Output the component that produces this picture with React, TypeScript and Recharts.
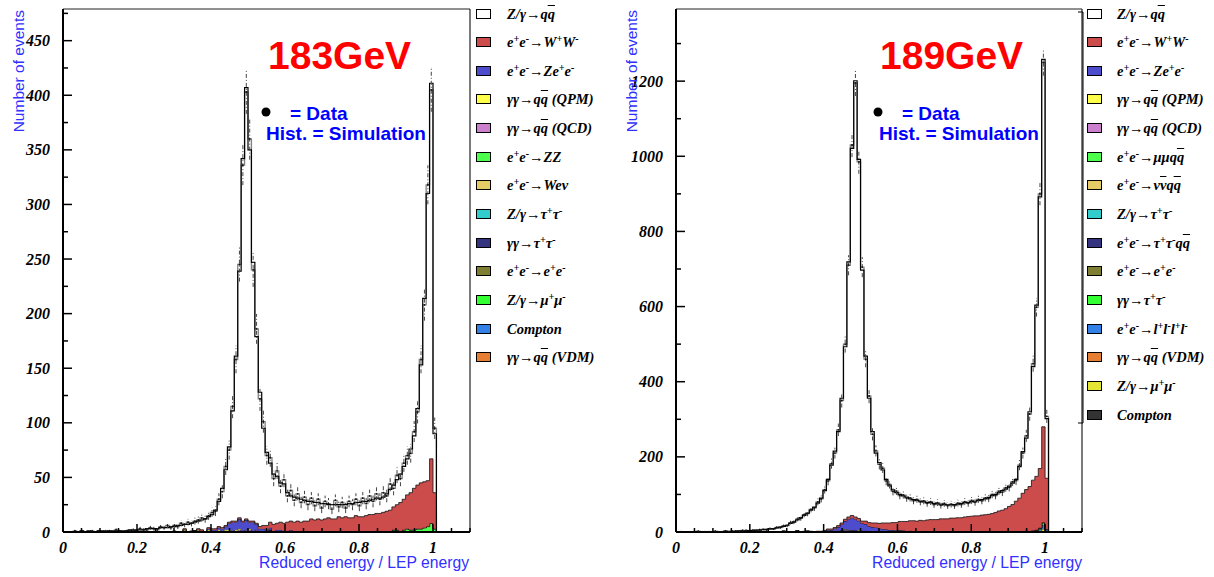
import React from 'react';
import { ComposedChart, Area, Line, Scatter, ErrorBar, XAxis, YAxis, ReferenceLine } from 'recharts';

// histogram binning: 108 bins per unit of reduced energy
const BIN = 1 / 108;

const X_TICKS = [0, 0.05, 0.1, 0.15, 0.2, 0.25, 0.3, 0.35, 0.4, 0.45, 0.5, 0.55, 0.6, 0.65, 0.7, 0.75, 0.8, 0.85, 0.9, 0.95, 1, 1.05, 1.1];
const Y_TICKS_183 = [0, 25, 50, 75, 100, 125, 150, 175, 200, 225, 250, 275, 300, 325, 350, 375, 400, 425, 450, 475];
const Y_TICKS_189 = [0, 100, 200, 300, 400, 500, 600, 700, 800, 900, 1000, 1100, 1200, 1300];

// ---- 183 GeV ----
const TOTAL_183 = [
  0, 0, 0, 0, 0, 1, 0, 1, 0, 0,
  1, 1, 0, 1, 1, 1, 1, 1, 1, 2,
  1, 2, 2, 2, 3, 3, 3, 3, 4, 4,
  4, 5, 5, 6, 6, 7, 7, 8, 9, 10,
  11, 12, 14, 16, 20, 28, 40, 57, 78, 111,
  161, 239, 342, 407, 350, 247, 179, 128, 95, 73,
  63, 53, 51, 45, 44, 36, 33, 32, 31, 30,
  29, 28, 28, 27, 27, 26, 26, 25, 25, 25,
  25, 25, 25, 26, 26, 27, 27, 28, 28, 29,
  30, 31, 31, 32, 35, 39, 43, 48, 53, 60,
  67, 76, 88, 113, 153, 214, 310, 411, 90,
];
const DATA_183 = [
  0, 0, 0, 1, 0, 1, 0, 0, 1, 0,
  1, 0, 1, 1, 0, 2, 1, 0, 1, 1,
  2, 1, 3, 2, 2, 4, 3, 2, 5, 4,
  6, 4, 6, 5, 8, 7, 9, 8, 10, 11,
  13, 12, 15, 18, 19, 30, 37, 60, 75, 115,
  158, 245, 336, 403, 360, 240, 186, 122, 101, 70,
  68, 49, 56, 42, 48, 33, 38, 29, 35, 27,
  32, 25, 31, 24, 30, 22, 28, 26, 21, 29,
  23, 27, 22, 28, 25, 30, 24, 31, 26, 33,
  28, 35, 30, 36, 33, 44, 40, 52, 49, 63,
  70, 72, 92, 110, 158, 208, 318, 405, 95,
];
const EE_183 = { from: 60, values: [1, 0, 0, 1, 0, 0, 1, 0, 1, 0, 0, 0, 1, 0, 1, 0, 0, 1, 0, 0, 1, 0, 1, 0, 0, 1, 0, 0, 0, 1, 0, 1, 0, 1, 0, 0, 1, 1, 0, 1, 1] };
const GGTT_183 = { from: 38, values: [1, 0, 1, 0, 1, 1, 1, 1, 1, 1, 1, 1, 1, 1, 1, 1, 1, 1, 1, 0, 1, 0, 1, 0, 1] };
const ZZ_183 = { from: 96, values: [1, 1, 1, 1, 2, 2, 2, 3, 3, 4, 5, 8, 3] };
const QCD_183 = { from: 50, values: [0, 1, 0, 1, 1, 0, 1] };
const QPM_183 = { from: 35, values: [2, 0, 0, 0, 2, 0, 0, 1, 0, 0, 1, 0, 1, 1, 0, 1, 1, 0, 0, 1] };
const ZEE_183 = { from: 42, values: [1, 1, 1, 2, 2, 3, 6, 8, 7, 9, 8, 9, 6, 8, 5, 3, 2, 2, 2, 1, 1, 1, 1, 1, 1] };
const WW_183 = {
  from: 30,
  values: [
    0, 0, 1, 0, 0, 1, 0, 1, 0, 1,
    1, 0, 1, 1, 1, 1, 1, 1, 1, 1,
    1, 1, 1, 1, 1, 1, 1, 2, 3, 4,
    5, 6, 6, 7, 7, 8, 8, 9, 9, 9,
    10, 10, 11, 11, 11, 11, 12, 12, 12, 12,
    13, 13, 13, 13, 13, 14, 14, 14, 15, 15,
    16, 16, 17, 17, 19, 20, 21, 23, 26, 28,
    31, 34, 38, 40, 42, 42, 42, 59, 33,
  ],
};

// ---- 189 GeV ----
const TOTAL_189 = [
  0, 0, 0, 0, 1, 0, 1, 1, 0, 1,
  1, 1, 1, 1, 2, 2, 2, 2, 3, 3,
  3, 4, 4, 5, 5, 6, 7, 8, 9, 11,
  13, 15, 18, 23, 27, 32, 38, 44, 50, 58,
  66, 77, 90, 110, 140, 178, 215, 267, 356, 493,
  719, 1021, 1201, 992, 697, 468, 356, 267, 210, 185,
  165, 140, 123, 112, 105, 100, 96, 93, 88, 86,
  84, 82, 80, 79, 78, 76, 75, 74, 73, 72,
  72, 73, 74, 76, 78, 79, 81, 82, 84, 86,
  88, 92, 97, 100, 105, 110, 114, 122, 130, 140,
  174, 214, 250, 320, 440, 604, 892, 1258, 302,
];
const DATA_189 = [
  0, 1, 0, 0, 0, 1, 2, 0, 1, 1,
  0, 2, 1, 1, 3, 1, 2, 3, 2, 4,
  4, 3, 5, 4, 6, 7, 6, 9, 8, 12,
  12, 16, 17, 25, 26, 34, 36, 46, 49, 60,
  64, 80, 88, 113, 136, 182, 210, 272, 350, 500,
  710, 1030, 1195, 985, 705, 460, 362, 260, 216, 180,
  170, 136, 127, 108, 109, 97, 99, 90, 91, 83,
  87, 80, 83, 76, 81, 73, 78, 71, 76, 70,
  74, 70, 77, 73, 81, 76, 84, 79, 87, 83,
  91, 89, 100, 97, 109, 106, 118, 119, 134, 137,
  178, 210, 256, 314, 448, 598, 900, 1250, 308,
];
const ZMUMU_189 = { from: 105, values: [1, 3, 8, 2] };
const LLLL_189 = { from: 104, values: [1, 2, 4, 10, 3] };
const GGTT_189 = { from: 105, values: [1, 2, 7, 2] };
const EE_189 = { from: 58, values: [1, 0, 1, 1, 0, 1, 0, 1, 1, 0, 1, 1, 0, 1, 0, 1, 1, 1, 0, 1, 1, 0, 1, 1, 1, 0, 1, 1, 1, 1, 0, 1, 1, 1, 1, 1, 2, 1, 1, 2, 1, 2, 2, 2, 3, 2, 3, 2, 2] };
const TTQQ_189 = { from: 44, values: [1, 1, 2, 2, 3, 3, 3, 2, 2, 2, 2, 2, 1, 1, 1, 1, 1, 1, 1, 1, 1, 2, 1, 1, 1, 1] };
const QCD_189 = { from: 47, values: [1, 1, 2, 2, 3, 2, 2, 1, 1] };
const QPM_189 = { from: 28, values: [1, 0, 0, 2, 0, 0, 0, 3, 0, 0, 2, 0, 0, 1, 0, 0, 3, 0, 1, 0, 0, 2, 1, 0, 0, 2] };
const ZEE_189 = { from: 42, values: [1, 2, 2, 4, 6, 10, 16, 22, 28, 33, 30, 24, 20, 18, 14, 12, 10, 8, 6, 5, 4, 3, 3, 2, 2, 1, 1] };
const WW_189 = {
  from: 30,
  values: [
    0, 1, 0, 1, 1, 1, 1, 2, 1, 2,
    1, 1, 1, 2, 2, 3, 3, 4, 4, 5,
    6, 6, 6, 6, 6, 8, 10, 11, 12, 14,
    16, 17, 19, 20, 21, 23, 24, 26, 27, 28,
    29, 30, 30, 31, 32, 32, 33, 34, 34, 35,
    36, 36, 37, 38, 39, 40, 41, 42, 43, 44,
    45, 46, 48, 51, 54, 57, 61, 66, 72, 80,
    88, 101, 110, 119, 134, 142, 158, 255, 136,
  ],
};

const LEGEND_183 = [
  ['Z/γ→q~q', '#ffffff'],
  ['e^+e^-→W^+W^-', '#cc4c4c'],
  ['e^+e^-→Ze^+e^-', '#4c4ccc'],
  ['γγ→q~q (QPM)', '#ffff4c'],
  ['γγ→q~q (QCD)', '#cc7fcc'],
  ['e^+e^-→ZZ', '#4cff4c'],
  ['e^+e^-→Weν', '#e5cc66'],
  ['Z/γ→τ^+τ^-', '#33cccc'],
  ['γγ→τ^+τ^-', '#33337f'],
  ['e^+e^-→e^+e^-', '#7f7f33'],
  ['Z/γ→μ^+μ^-', '#33ff33'],
  ['Compton', '#3380e6'],
  ['γγ→q~q (VDM)', '#e67f33'],
];
const LEGEND_189 = [
  ['Z/γ→q~q', '#ffffff'],
  ['e^+e^-→W^+W^-', '#cc4c4c'],
  ['e^+e^-→Ze^+e^-', '#4c4ccc'],
  ['γγ→q~q (QPM)', '#ffff4c'],
  ['γγ→q~q (QCD)', '#cc7fcc'],
  ['e^+e^-→μμq~q', '#4cff4c'],
  ['e^+e^-→ν~νq~q', '#e5cc66'],
  ['Z/γ→τ^+τ^-', '#33cccc'],
  ['e^+e^-→τ^+τ^-q~q', '#33337f'],
  ['e^+e^-→e^+e^-', '#7f7f33'],
  ['γγ→τ^+τ^-', '#33ff33'],
  ['e^+e^-→l^+l^-l^+l^-', '#3380e6'],
  ['γγ→q~q (VDM)', '#e67f33'],
  ['Z/γ→μ^+μ^-', '#e5e533'],
  ['Compton', '#333333'],
];

// stacking order, bottom first
const STACK_183 = [
  { key: 'ee', part: EE_183, color: '#7f7f33' },
  { key: 'ggtt', part: GGTT_183, color: '#33337f' },
  { key: 'zz', part: ZZ_183, color: '#4cff4c' },
  { key: 'qcd', part: QCD_183, color: '#cc7fcc' },
  { key: 'qpm', part: QPM_183, color: '#ffff4c' },
  { key: 'zee', part: ZEE_183, color: '#4c4ccc' },
  { key: 'ww', part: WW_183, color: '#cc4c4c' },
];
const STACK_189 = [
  { key: 'zmumu', part: ZMUMU_189, color: '#e5e533' },
  { key: 'llll', part: LLLL_189, color: '#3380e6' },
  { key: 'ggtt', part: GGTT_189, color: '#33ff33' },
  { key: 'ee', part: EE_189, color: '#7f7f33' },
  { key: 'ttqq', part: TTQQ_189, color: '#33337f' },
  { key: 'qcd', part: QCD_189, color: '#cc7fcc' },
  { key: 'qpm', part: QPM_189, color: '#ffff4c' },
  { key: 'zee', part: ZEE_189, color: '#4c4ccc' },
  { key: 'ww', part: WW_189, color: '#cc4c4c' },
];

const PLOT_LEFT = 63;
const PLOT_BOTTOM = 532;
const SERIF = '"Liberation Serif", "Times New Roman", serif';
const SANS = '"Liberation Sans", Arial, sans-serif';

type Part = { from: number; values: number[] };
const at = (p: Part, i: number) => (i >= p.from && i < p.from + p.values.length ? p.values[i - p.from] : 0);

function buildRows(total: number[], data: number[], stack: { key: string; part: Part }[]) {
  const rows: any[] = [];
  for (let i = 0; i <= total.length; i++) {
    const row: any = { x: i * BIN, total: total[i] ?? 0, data: data[i] ?? 0 };
    stack.forEach((s) => (row[s.key] = at(s.part, i)));
    rows.push(row);
  }
  return rows;
}

function buildPoints(data: number[]) {
  return data
    .map((v, i) => ({ x: (i + 0.5) * BIN, y: v, err: Math.sqrt(v) }))
    .filter((p) => p.y > 0);
}

const YTick = (major: number) => (props: any) => {
  const { y, payload } = props;
  const v = payload.value;
  const isMajor = v % major === 0;
  return (
    <g>
      <line x1={PLOT_LEFT} x2={PLOT_LEFT + (isMajor ? 9 : 5)} y1={y} y2={y} stroke="#000" strokeWidth={1.5} />
      {isMajor && (
        <text x={PLOT_LEFT - 13} y={y + 5.5} textAnchor="end" fontFamily={SERIF} fontStyle="italic" fontWeight="bold" fontSize={16} fill="#000">
          {v}
        </text>
      )}
    </g>
  );
};

const XTick = (props: any) => {
  const { x, payload } = props;
  const v = payload.value;
  const fifth = Math.abs(v * 5 - Math.round(v * 5)) < 1e-6;
  const labelled = fifth && v <= 1.0001;
  return (
    <g>
      <line x1={x} x2={x} y1={PLOT_BOTTOM} y2={PLOT_BOTTOM - (labelled && v > 0 ? 8 : 4)} stroke="#000" strokeWidth={1.5} />
      {labelled && (
        <text x={x} y={553} textAnchor="middle" fontFamily={SERIF} fontStyle="italic" fontWeight="bold" fontSize={16} fill="#000">
          {String(Math.round(v * 10) / 10)}
        </text>
      )}
    </g>
  );
};

function Label({ text }: { text: string }) {
  const parts = text.split(/(\^[+-]|~.)/u).filter((s) => s !== '');
  return (
    <>
      {parts.map((p, i) => {
        if (p[0] === '^')
          return (
            <span key={i} style={{ fontSize: '0.7em', position: 'relative', top: '-0.5em' }}>
              {p[1]}
            </span>
          );
        if (p[0] === '~')
          return (
            <span key={i} style={{ textDecoration: 'overline' }}>
              {p.slice(1)}
            </span>
          );
        return <span key={i}>{p}</span>;
      })}
    </>
  );
}

function LegendBox({ items, left, width, boxLeft, textLeft }: any) {
  return (
    <div style={{ position: 'absolute', left, top: 0, width, height: 440, overflow: 'hidden' }}>
      {items.map(([label, color]: string[], k: number) => {
        const c = 13.5 + k * 28.65;
        return (
          <React.Fragment key={k}>
            <div style={{ position: 'absolute', left: boxLeft, top: c - 5, width: 15, height: 10, background: color, border: '1px solid #000', boxSizing: 'border-box' }} />
            <div style={{ position: 'absolute', left: textLeft, top: c - 9, height: 18, lineHeight: '18px', whiteSpace: 'nowrap', fontFamily: SERIF, fontStyle: 'italic', fontWeight: 'bold', fontSize: 14.5, color: '#000' }}>
              <Label text={label} />
            </div>
          </React.Fragment>
        );
      })}
    </div>
  );
}

function Panel({ left, width, total, data, stack, yMax, yTicks, yMajor }: any) {
  const rows = buildRows(total, data, stack);
  const points = buildPoints(data);
  return (
    <div style={{ position: 'absolute', left, top: 0 }}>
      <ComposedChart width={width} height={577} data={rows} margin={{ top: 9, right: 130, bottom: 0, left: 13 }}>
        <XAxis dataKey="x" type="number" domain={[0, 1.1]} ticks={X_TICKS} interval={0} allowDataOverflow height={45} tick={XTick} tickLine={false} axisLine={{ stroke: '#000', strokeWidth: 2 }} />
        <YAxis type="number" domain={[0, yMax]} ticks={yTicks} interval={0} allowDataOverflow width={50} tick={YTick(yMajor)} tickLine={false} axisLine={{ stroke: '#000', strokeWidth: 2 }} />
        <ReferenceLine y={yMax} stroke="#222" strokeWidth={1.2} />
        <ReferenceLine x={1.1} stroke="#222" strokeWidth={1.2} />
        <Area dataKey="total" type="stepAfter" fill="#fff" fillOpacity={1} stroke="none" isAnimationActive={false} />
        {stack.map((s: any) => (
          <Area key={s.key} dataKey={s.key} stackId="mc" type="stepAfter" fill={s.color} fillOpacity={1} stroke="#111" strokeWidth={0.8} isAnimationActive={false} />
        ))}
        <Line dataKey="data" type="stepAfter" stroke="#808080" strokeWidth={1.3} dot={false} isAnimationActive={false} />
        <Line dataKey="total" type="stepAfter" stroke="#000" strokeWidth={1.2} dot={false} isAnimationActive={false} />
        <Scatter data={points} dataKey="y" fill="#000" isAnimationActive={false} shape={(p: any) => <circle cx={p.cx} cy={p.cy} r={0.9} fill="#111" />}>
          <ErrorBar dataKey="err" direction="y" width={0} stroke="#444" strokeWidth={1} strokeDasharray="4 2 1 2" />
        </Scatter>
      </ComposedChart>
    </div>
  );
}

function Overlay() {
  const title = { fontFamily: SANS, fontWeight: 'bold' as const };
  return (
    <svg width={1214} height={577} style={{ position: 'absolute', left: 0, top: 0, pointerEvents: 'none' }}>
      {[0, 613].map((dx, k) => (
        <g key={k}>
          <text x={268 + dx - (k ? 1 : 0)} y={69} fontSize={39} fill="#ff0000" {...title}>
            {k ? '189GeV' : '183GeV'}
          </text>
          <circle cx={266 + dx - (k ? 1 : 0)} cy={112} r={4.5} fill="#000" />
          <text x={290 + dx - (k ? 1 : 0)} y={120} fontSize={19} fill="#0000ff" {...title}>= Data</text>
          <text x={266 + dx} y={140} fontSize={19} fill="#0000ff" {...title}>Hist. = Simulation</text>
          <text transform={`translate(${23.5 + dx}, 10) rotate(-90)`} textAnchor="end" fontFamily={SANS} fontSize={15.5} fill="#3030ff">
            Number of events
          </text>
          <text x={469 + dx} y={568} textAnchor="end" fontFamily={SANS} fontSize={15.7} fill="#3030ff">
            Reduced energy / LEP energy
          </text>
        </g>
      ))}
      <path d="M1078 12 H1083 V423 H1078" fill="none" stroke="#000" strokeWidth={1} />
    </svg>
  );
}

export default function App() {
  return (
    <div style={{ position: 'absolute', left: 0, top: 0, width: 1214, height: 577, background: '#fff' }}>
      <Panel left={0} width={600} total={TOTAL_183} data={DATA_183} stack={STACK_183} yMax={479} yTicks={Y_TICKS_183} yMajor={50} />
      <Panel left={613} width={599} total={TOTAL_189} data={DATA_189} stack={STACK_189} yMax={1392} yTicks={Y_TICKS_189} yMajor={200} />
      <LegendBox items={LEGEND_183} left={470} width={142} boxLeft={6} textLeft={37} />
      <LegendBox items={LEGEND_189} left={1083} width={131} boxLeft={4} textLeft={34} />
      <Overlay />
    </div>
  );
}
